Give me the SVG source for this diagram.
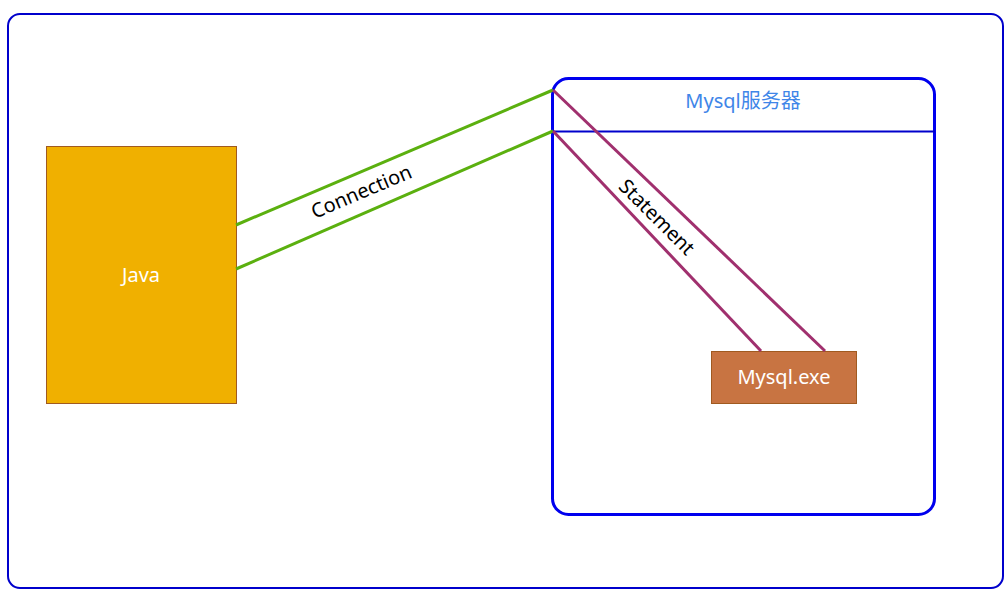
<svg xmlns="http://www.w3.org/2000/svg" width="1008" height="596" viewBox="0 0 1008 596">
<style>
text{font-family:"Noto Sans","Noto Sans CJK SC",sans-serif;font-size:20px;text-anchor:middle}
.g{stroke:#5bb00f;stroke-width:3;fill:none}
.p{stroke:#a0306e;stroke-width:3;fill:none}
</style>
<rect width="1008" height="596" fill="#fff"/>
<g id="frame"><rect x="8" y="14" width="995" height="574" rx="12" fill="none" stroke="#0000cc" stroke-width="2"/></g>
<g id="server">
<rect x="552.5" y="78.5" width="382" height="436" rx="16" fill="none" stroke="#0000ee" stroke-width="3"/>
<line x1="552" y1="131.5" x2="935" y2="131.5" stroke="#0000cc" stroke-width="2"/>
<text x="743" y="108" fill="#3f86e8">Mysql服务器</text>
</g>
<g id="java"><rect x="46.5" y="146.5" width="190" height="257" fill="#f0b000" stroke="#a05a20"/><text x="141" y="282" fill="#fff">Java</text></g>
<g id="mysqlexe"><rect x="711.5" y="351.5" width="145" height="52" fill="#c87442" stroke="#a05a20"/><text x="784" y="384" fill="#fff">Mysql.exe</text></g>
<g id="connectors">
<line class="g" x1="236" y1="225" x2="553" y2="90"/>
<line class="g" x1="236" y1="269" x2="553" y2="131"/>
<line class="p" x1="553" y1="90" x2="825" y2="351"/>
<line class="p" x1="553" y1="131" x2="761" y2="351"/>
<text transform="translate(364,198) rotate(-23)" fill="#000">Connection</text>
<text transform="translate(652,222) rotate(45)" fill="#000">Statement</text>
</g>
</svg>
